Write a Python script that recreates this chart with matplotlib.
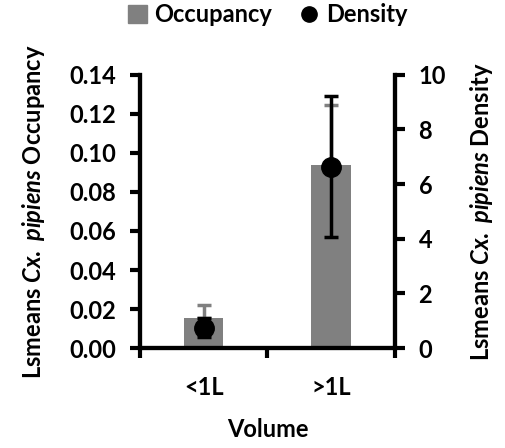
import numpy as np
import matplotlib
matplotlib.use('Agg')
from matplotlib import pyplot as plt
from matplotlib.lines import Line2D
from matplotlib.patches import Patch

plt.rcParams.update({'font.family': 'Lato',
                     'font.weight': 'bold',
                     'axes.labelweight': 'bold',
                     'font.size': 17,
                     'mathtext.fontset': 'custom',
                     'mathtext.rm': 'Lato:bold',
                     'mathtext.it': 'Lato:italic:bold',
                     'mathtext.bf': 'Lato:bold',
                     'axes.linewidth': 3})

categories = ['<1L', '>1L']
occupancy = [0.0155, 0.0938]
occupancy_err = [0.0065, 0.0308]
density = [0.75, 6.63]
density_err = [0.35, 2.58]

fig = plt.figure(figsize=(5.05, 4.48), dpi=100)
ax = fig.add_axes([0.277, 0.223, 0.505, 0.61])
ax2 = ax.twinx()

x = np.arange(len(categories))
ax.bar(x, occupancy, width=0.31, color='#808080', zorder=2)
ax.errorbar(x, occupancy, yerr=[np.zeros(len(x)), occupancy_err], fmt='none',
            ecolor='#808080', elinewidth=2.5, capsize=5, capthick=2.5, zorder=3)
ax2.errorbar(x, density, yerr=density_err, fmt='o', color='black', ms=14,
             elinewidth=2.5, capsize=5, capthick=2.5, zorder=4)

ax.set_xlim(-0.5, 1.5)
ax.set_ylim(0, 0.14)
ax.set_yticks(np.arange(0, 0.141, 0.02))
ax.set_yticklabels(['%.2f' % v for v in np.arange(0, 0.141, 0.02)])
ax2.set_ylim(0, 10)
ax2.set_yticks(np.arange(0, 11, 2))

ax.set_xticks([-0.5, 0.5, 1.5])
ax.set_xticklabels([])
ax.set_xticks(x, minor=True)
ax.set_xticklabels(categories, minor=True)
ax.tick_params(axis='x', which='minor', length=0, pad=20)
ax.tick_params(axis='x', which='major', length=7, width=3, direction='out')
ax.tick_params(axis='y', length=7, width=3, direction='out', pad=10)
ax2.tick_params(axis='y', length=7, width=3, direction='out', pad=10)

for a in (ax, ax2):
    a.spines['top'].set_visible(False)

ax.set_xlabel('Volume', labelpad=14)
ax.set_ylabel(r'Lsmeans $\mathit{Cx.\ pipiens}$ Occupancy', labelpad=16)
ax2.set_ylabel(r'Lsmeans $\mathit{Cx.\ pipiens}$ Density', labelpad=16)

handles = [Patch(color='#808080'),
           Line2D([], [], marker='o', color='black', ls='none', ms=11)]
fig.legend(handles, ['Occupancy', 'Density'], loc='upper center',
           bbox_to_anchor=(0.53, 1.04), ncol=2, frameon=False,
           handlelength=0.8, handleheight=0.8, handletextpad=0.3,
           columnspacing=1.2, fontsize=17)

plt.savefig('out.png', dpi=100)
